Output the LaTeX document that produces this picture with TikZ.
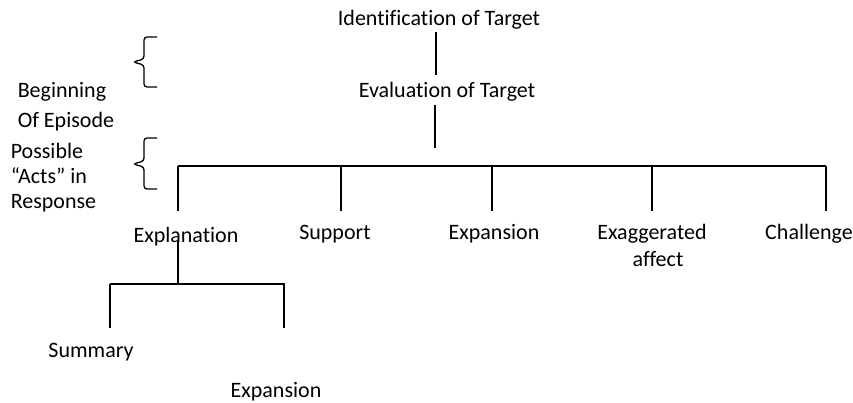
\documentclass[tikz,border=0pt]{standalone}
\usepackage{fontspec}
\setmainfont[Ligatures=NoCommon]{Carlito}

\begin{document}
\begin{tikzpicture}[x=1pt,y=-1pt,line width=1.5pt,
    every node/.style={inner sep=0pt,anchor=base,
      font=\fontsize{22}{27}\selectfont},
    side/.style={anchor=base west},
    curly/.style={line width=1.3pt,rounded corners=3pt}]
\useasboundingbox (0,0) rectangle (853,402);
% beginning of episode
\node (ident) at (439,25) {Identification of Target};
\node (eval)  at (447,97) {Evaluation of Target};
\coordinate (i-end) at (436,32);  \coordinate (e-top) at (436,75);
\coordinate (e-end) at (435,105); \coordinate (top)   at (435,148);
\draw (i-end) -- (e-top);
\draw (e-end) -- (top);
% possible acts
\draw (178,166) coordinate (bar-l) -- (826,166) coordinate (bar-r);
\foreach \x/\n in {178/expl,341/supp,492/expn,652/exag,826/chal}
  \draw (\x,166) coordinate (b-\n) -- (\x,211) coordinate (d-\n);
\node (expl) at (186,242) {Explanation};
\node (supp) at (335,239) {Support};
\node (expn) at (494,239) {Expansion};
\node (exag) at (652,239) {Exaggerated};
\node (aff)  at (658,266) {affect};
\node (chal) at (809,239) {Challenge};
% under explanation
\coordinate (x-top) at (178,240);
\draw (x-top) -- (178,284) coordinate (x-mid);
\draw (110,284) coordinate (x-l) -- (285,284) coordinate (x-r);
\draw (x-l) -- (110,328) coordinate (d-summ);
\draw (284,284) -- (284,328) coordinate (d-expn2);
\node (summ)  at (91,357)  {Summary};
\node (expn2) at (276,397) {Expansion};
% side labels
\foreach \t/\m/\b in {37/62/87,138/164/189}
  \draw[curly] (157,\t) -- (144,\t) -- (144,\m-3) -- (133,\m)
    -- (144,\m+3) -- (144,\b) -- (157,\b);
\node[side] (beg)  at (17,97)  {Beginning};
\node[side] (ofep) at (17,127) {Of Episode};
\node[side] (poss) at (10,158) {Possible};
\node[side] (acts) at (10,183) {“Acts” in};
\node[side] (resp) at (10,208) {Response};
\end{tikzpicture}
\end{document}
